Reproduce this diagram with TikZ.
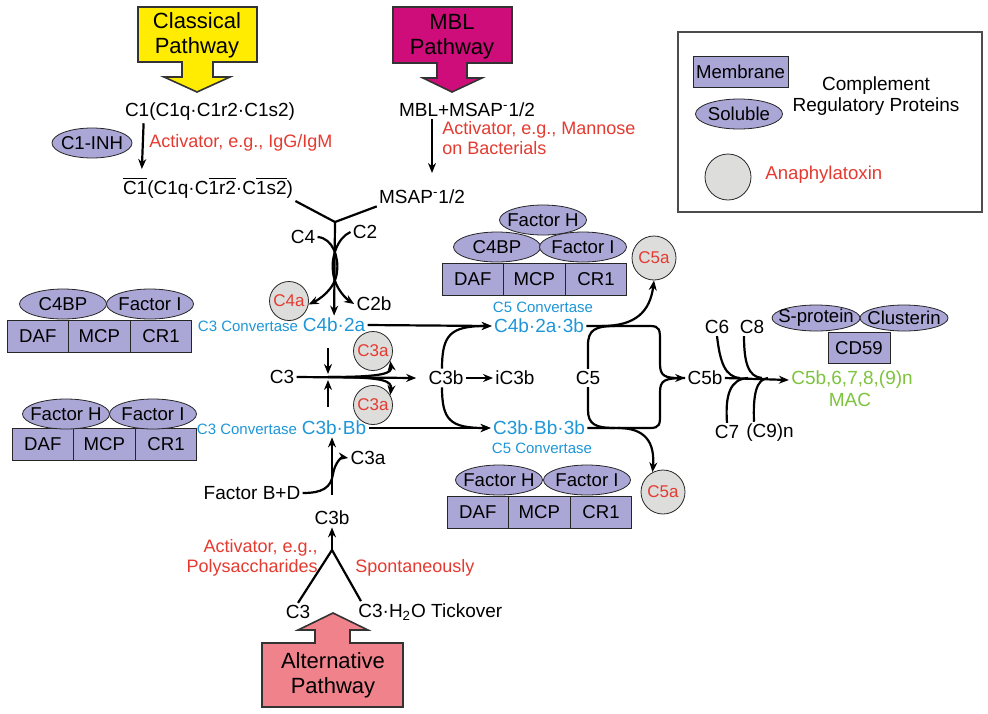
\documentclass[tikz,border=0pt]{standalone}
\usepackage{fontspec}
\setmainfont{Liberation Sans}
\usetikzlibrary{shapes.geometric,positioning,arrows.meta}
\definecolor{clyellow}{RGB}{255,236,0}
\definecolor{mblmag}{RGB}{206,12,122}
\definecolor{altpink}{RGB}{240,130,140}
\definecolor{regpurple}{RGB}{170,166,214}
\definecolor{anagray}{RGB}{221,222,220}
\definecolor{actred}{RGB}{228,58,48}
\definecolor{convblue}{RGB}{30,150,215}
\definecolor{macgreen}{RGB}{125,195,60}
\tikzset{every node/.style={font=\fontsize{9.5}{11}\selectfont, inner sep=1pt},
  conn/.style={line width=1.1pt},
  arr/.style={conn, -{Stealth[length=5pt,width=4pt]}},
  act/.style={text=actred, font=\fontsize{9}{10}\selectfont},
  conv/.style={text=convblue},
  convsmall/.style={text=convblue, font=\fontsize{7.5}{9}\selectfont},
  pathbox/.style={draw=black!80, line width=0.8pt},
  pathtxt/.style={font=\fontsize{11}{12.5}\selectfont, align=center},
  sol/.style={ellipse, draw=black!85, fill=regpurple, minimum width=43.5pt, minimum height=15pt,
    inner xsep=-4pt, inner ysep=0pt, font=\fontsize{9.3}{11}\selectfont},
  mem/.style={rectangle, draw=black!85, fill=regpurple, minimum width=30.8pt, minimum height=16pt,
    inner sep=0pt, outer sep=0pt, font=\fontsize{9.3}{11}\selectfont},
  ana/.style={circle, draw=black!85, fill=anagray, minimum size=19.5pt, inner sep=0pt, text=actred,
    font=\fontsize{8.5}{10}\selectfont}}

\begin{document}
\begin{tikzpicture}[x=0.5pt,y=-0.5pt]
  \useasboundingbox (0,0) rectangle (988,713);
  % pathways
  \draw[pathbox, fill=clyellow] (138,7) -- (257,7) -- (257,62) -- (213,62) -- (213,77) -- (230,77)
    -- (197,92) -- (164,77) -- (182,77) -- (182,62) -- (138,62) -- cycle;
  \node[pathtxt] (cp) at (197,35) {Classical\\Pathway};
  \draw[pathbox, fill=mblmag] (393,7) -- (512,7) -- (512,63) -- (467,63) -- (467,78) -- (482,78)
    -- (452,92) -- (423,78) -- (437,78) -- (437,63) -- (393,63) -- cycle;
  \node[pathtxt] (mp) at (452,37) {MBL\\Pathway};
  \draw[pathbox, fill=altpink] (262,643) -- (315,643) -- (315,630) -- (298,630) -- (333,613) -- (368,630)
    -- (350,630) -- (350,643) -- (403,643) -- (403,707) -- (262,707) -- cycle;
  \node[pathtxt] (ap) at (333,675) {Alternative\\Pathway};

  % classical and lectin entry
  \node (c1) at (210,112) {C1(C1q·C1r2·C1s2)};
  \node[sol, minimum width=40pt] (inh) at (92,143) {C1-INH};
  \node[act, anchor=west] (act1) at (147,143) {Activator, e.g., IgG/IgM};
  \node (c1bar) at (208,188) {$\overline{\mbox{C1}}$(C1q·C$\overline{\mbox{1r2}}$·C$\overline{\mbox{1s2}}$)};
  \node (mbl) at (467,110) {MBL+MSAP\textsuperscript{-}1/2};
  \node[act, anchor=west, align=left] (act2) at (440,138) {Activator, e.g., Mannose\\on Bacterials};
  \node (msap) at (422,197) {MSAP\textsuperscript{-}1/2};
  \coordinate (mt) at (432,173);
  \coordinate (j) at (335,222);
  \draw[arr, shorten >=3pt] ([xshift=10.5pt]c1.south west) -- ([xshift=10.5pt]c1bar.north west);
  \draw[arr] (mbl.south -| mt) -- (mt);

  % C3 convertases
  \node (c4) at (303,237) {C4};
  \node (c2) at (365,232) {C2};
  \node[ana] (c4a) at (289,301) {C4a};
  \node (c2b) at (374,304) {C2b};
  \node[conv] (c4b2a) at (334,325) {C4b·2a};
  \node[convsmall, anchor=base east] (cv1) at (c4b2a.base west) {C3 Convertase};
  \node (c3) at (282,377) {C3};
  \node[ana] (c3a1) at (373,351) {C3a};
  \node[ana] (c3a2) at (373,405) {C3a};
  \node[conv] (c3bbb) at (334,428) {C3b·Bb};
  \node[convsmall, anchor=base east] (cv2) at (c3bbb.base west) {C3 Convertase};
  \node (c3b) at (446,378) {C3b};
  \node (ic3b) at (515,378) {iC3b};
  \coordinate (x3) at (328,377);
  \draw[conn] (c1bar.south east) -- (j) -- (msap.south west);
  \draw[arr] (j) -- (c4b2a);
  \draw[arr] (c4.east) .. controls (333,238) and (339,258) .. (337,272)
    .. controls (335,290) and (318,300) .. (c4a.-10);
  \draw[arr] (c2.west) .. controls (337,238) and (331,258) .. (333,272)
    .. controls (335,290) and (348,300) .. (c2b.west);
  \draw[arr] (c3.east) -- ([xshift=-5pt]c3b.west);
  \draw[arr, shorten <=7pt] (x3 |- c4b2a.south) -- ([yshift=1.5pt]x3);
  \draw[arr, shorten <=6pt] (x3 |- c3bbb.north) -- ([yshift=-1.5pt]x3);
  \draw[arr] (x3) .. controls (385,377) and (392,373) .. (c3a1.-30);
  \draw[arr] (x3) .. controls (385,377) and (392,381) .. (c3a2.30);
  \draw[arr] (c3b.east) -- (ic3b.west);

  % C5 convertases
  \node[conv] (c4b2a3b) at (539,326) {C4b·2a·3b};
  \node[conv] (c3bbb3b) at (539,428) {C3b·Bb·3b};
  \node[convsmall] (cv3) at (543,307) {C5 Convertase};
  \node[convsmall] (cv4) at (542,448) {C5 Convertase};
  \node (c5) at (588,378) {C5};
  \node[ana, minimum size=22pt] (c5a1) at (654,258) {C5a};
  \node[ana, minimum size=22pt] (c5a2) at (663,492) {C5a};
  \node (c5b) at (705,378) {C5b};
  \coordinate (m0) at (602,326);
  \coordinate (m1) at (615,326);
  \coordinate (m2) at (615,428);
  \coordinate (m3) at (618,428);
  \draw[arr] (c4b2a.east) -- (c4b2a3b.west);
  \draw[arr] (c3bbb.east) -- (c3bbb3b.west);
  \draw[arr] ([xshift=-2pt]c3b.north) .. controls (442,335) and (450,326) .. (c4b2a3b.west);
  \draw[arr] ([xshift=-2pt]c3b.south) .. controls (442,420) and (450,428) .. (c3bbb3b.west);
  \draw[arr] (c4b2a3b.east) -- (650,326) .. controls (660,326) and (660,330) .. (660,342)
    -- (660,364) .. controls (660,376) and (665,378) .. (c5b.west);
  \draw[conn] (c3bbb3b.east) -- (650,428) .. controls (660,428) and (660,424) .. (660,414)
    -- (660,392) .. controls (660,380) and (665,378) .. (c5b.west);
  \draw[conn] (c5.north) -- (588,345) .. controls (588,330) and (595,326) .. (m1);
  \draw[conn] (c5.south) -- (588,410) .. controls (588,424) and (595,428) .. (m2);
  \draw[arr] (m0) .. controls (635,326) and (650,312) .. (c5a1.south);
  \draw[arr] (m3) .. controls (645,428) and (655,442) .. (c5a2.118);

  % terminal pathway
  \node (c6) at (717,327) {C6};
  \node (c8) at (752,327) {C8};
  \node (c7) at (727,432) {C7};
  \node (c9) at (770,433) {(C9)n};
  \node[text=macgreen] (mac) at (852,380) {C5b,6,7,8,(9)n};
  \node[text=macgreen] (macl) at (850,400) {MAC};
  \node[sol, minimum width=44pt, minimum height=13pt] (sp) at (816,318) {S-protein};
  \node[sol, minimum width=44pt, minimum height=13pt] (cl) at (904,318) {Clusterin};
  \node[mem, minimum width=31pt, minimum height=15.5pt] (cd) at (859,348) {CD59};
  \coordinate (k6) at (740,378);
  \coordinate (k8) at (762,378);
  \coordinate (k7) at (748,378);
  \coordinate (k9) at (768,378);
  \draw[arr] (c5b.east) -- (mac.west);
  \draw[conn] (c6.south) .. controls (720,362) and (725,377) .. (k6);
  \draw[conn] ([xshift=-4pt]c8.south) .. controls (744,362) and (748,377) .. (k8);
  \draw[conn] (c7.north) .. controls (725,395) and (730,379) .. (k7);
  \draw[conn] ([xshift=-8pt]c9.north) .. controls (753,395) and (756,379) .. (k9);

  % alternative pathway
  \node (fbd) at (252,493) {Factor B+D};
  \node (c3al) at (368,458) {C3a};
  \node (c3b2) at (332,518) {C3b};
  \node (c3x) at (298,612) {C3};
  \node[anchor=west] (tick) at (356,612) {C3·H\textsubscript{2}O Tickover};
  \node[act, anchor=east, align=right] (act3) at (320,558) {Activator, e.g.,\\Polysaccharides};
  \node[act, anchor=west] (act4) at (353,568) {Spontaneously};
  \coordinate (apex) at (332,550);
  \draw[arr, shorten <=7pt] (c3b2.north) -- (c3b2.north |- c3bbb.south);
  \draw[arr] (fbd.east) .. controls (322,493) and (331,488) .. (333,474)
    .. controls (335,462) and (342,457) .. (c3al.west);
  \draw[conn] (c3x.north) -- (apex) -- ([xshift=2.5pt]tick.north west);
  \draw[arr] (apex) -- (c3b2.south);

  % regulators
  \node[mem] (daf1) at (37.8,336.5) {DAF};
  \node[mem, right=0pt of daf1] (mcp1) {MCP};
  \node[mem, right=0pt of mcp1] (cr1a) {CR1};
  \node[sol] (bp1) at (63,304) {C4BP};
  \node[sol] (fi1) at (150,304) {Factor I};
  \node[mem] (daf2) at (42.8,444) {DAF};
  \node[mem, right=0pt of daf2] (mcp2) {MCP};
  \node[mem, right=0pt of mcp2] (cr1b) {CR1};
  \node[sol] (fh2) at (66,414) {Factor H};
  \node[sol] (fi2) at (153,414) {Factor I};
  \node[mem] (daf3) at (472.8,279) {DAF};
  \node[mem, right=0pt of daf3] (mcp3) {MCP};
  \node[mem, right=0pt of mcp3] (cr1c) {CR1};
  \node[sol] (bp3) at (497,247) {C4BP};
  \node[sol] (fi3) at (583,247) {Factor I};
  \node[sol] (fh3) at (543,220) {Factor H};
  \node[mem] (daf4) at (477.8,512.5) {DAF};
  \node[mem, right=0pt of daf4] (mcp4) {MCP};
  \node[mem, right=0pt of mcp4] (cr1d) {CR1};
  \node[sol] (fh4) at (499,480) {Factor H};
  \node[sol] (fi4) at (587,480) {Factor I};

  % legend
  \draw[black!70, line width=0.8pt] (678,32) rectangle (982,212);
  \node[mem, minimum width=47.5pt, minimum height=15.5pt] (lm) at (740.5,71.5) {Membrane};
  \node[sol] (ls) at (739,114) {Soluble};
  \node[align=center, font=\fontsize{9.5}{10.5}\selectfont] (lt) at (876,96) {Complement\\Regulatory Proteins};
  \node[ana, minimum size=23pt] (lc) at (728,177) {};
  \node[act, anchor=west, font=\fontsize{9.3}{11}\selectfont] (la) at (763,175) {Anaphylatoxin};
\end{tikzpicture}
\end{document}
